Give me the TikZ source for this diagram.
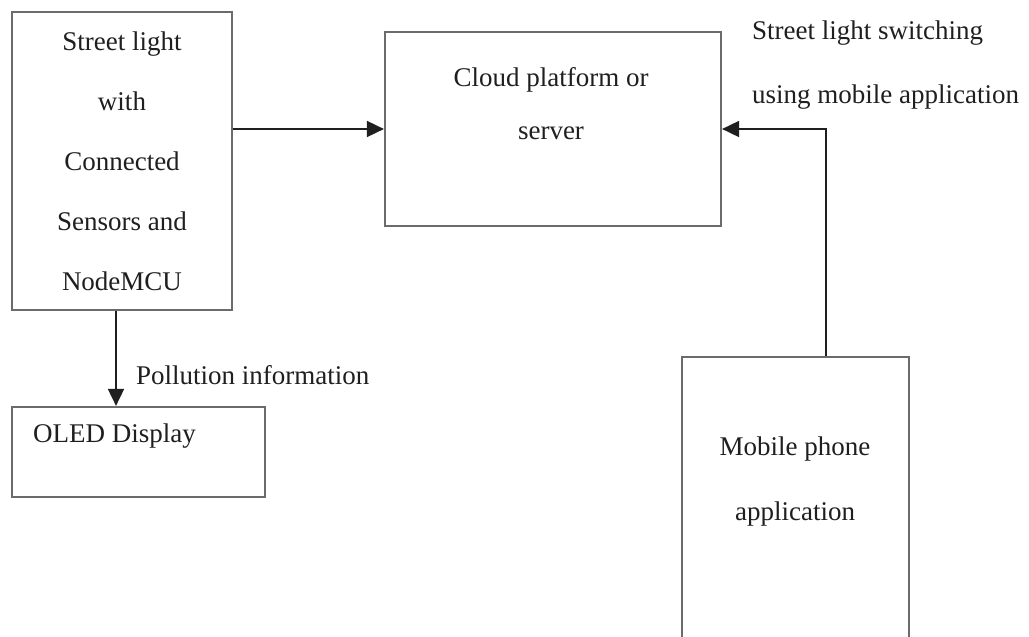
\documentclass[tikz,border=0pt]{standalone}
\usepackage{fontspec}
\setmainfont{Liberation Serif}
\usetikzlibrary{arrows.meta}
\tikzset{
  box/.style={draw=black!58, line width=2.2pt, rectangle, inner sep=0pt},
  txt/.style={font=\fontsize{27}{60}\selectfont, text=black!88, inner sep=0pt, align=center},
  conn/.style={draw=black!88, line width=1.8pt, -{Triangle[length=17pt,width=16pt]}},
  plain/.style={draw=black!88, line width=1.8pt}
}
\begin{document}
\begin{tikzpicture}[x=1pt,y=-1pt]
\clip (0,0) rectangle (1029,637);
\useasboundingbox (0,0) rectangle (1029,637);
% boxes
\node[box, minimum width=220pt, minimum height=298pt] (sl) at (122,161) {};
\node[box, minimum width=336pt, minimum height=194pt] (cp) at (553,129) {};
\node[box, minimum width=253pt, minimum height=90pt] (ol) at (138.5,452) {};
\node[box, minimum width=227pt, minimum height=320pt] (mp) at (795.5,517) {};
% texts
\node[txt] (slt) at (122,161) {Street light\\with\\Connected\\Sensors and\\NodeMCU};
\node[txt] (cpt1) at (551,80) {Cloud platform or};
\node[txt] (cpt2) at (551,133) {server};
\node[txt, anchor=west] (olt) at (33,436) {OLED Display};
\node[txt] (mpt1) at (795,449) {Mobile phone};
\node[txt] (mpt2) at (795,514) {application};
\node[txt, anchor=west] (sw1) at (752,33) {Street light switching};
\node[txt, anchor=west] (sw2) at (752,97) {using mobile application};
\node[txt, anchor=west] (pol) at (136,375) {Pollution information};
% connectors
\coordinate (c1) at (826,129);
\draw[conn] (sl.east |- 0,129) -- (cp.west |- 0,129);
\draw[conn] (mp.north -| c1) -- (c1) -- (cp.east |- c1);
\draw[conn] (sl.south -| 116,0) -- (ol.north -| 116,0);
\end{tikzpicture}
\end{document}
